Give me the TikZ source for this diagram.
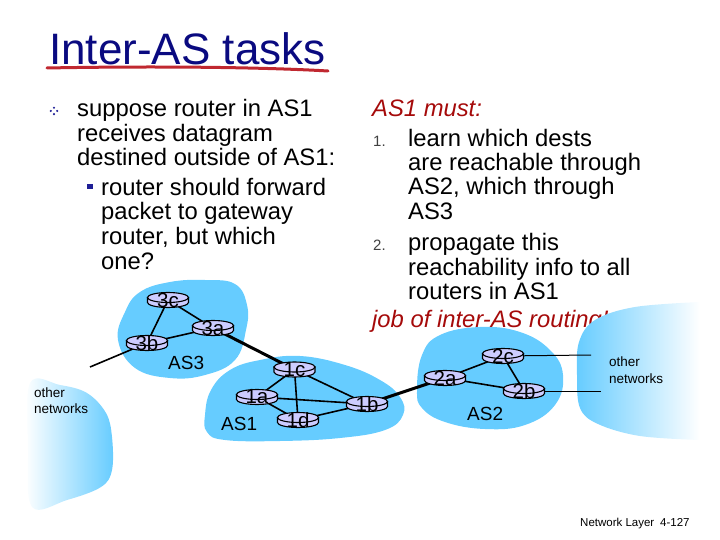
\documentclass[tikz,border=0pt]{standalone}
\usepackage{fontspec}
\setmainfont{Liberation Sans}
\definecolor{asblue}{RGB}{102,204,255}
\definecolor{lav}{RGB}{204,204,255}
\definecolor{titleblue}{RGB}{10,10,128}
\definecolor{ulred}{RGB}{192,40,48}
\definecolor{itred}{RGB}{165,10,10}
\definecolor{bulblue}{RGB}{30,30,150}
\pgfdeclarelayer{blobs}
\pgfdeclarelayer{edges}
\pgfsetlayers{blobs,edges,main}
\tikzset{
  txt/.style={anchor=base west, inner sep=0pt, font=\fontsize{23.8}{28}\selectfont},
  ittxt/.style={txt, text=itred, font=\fontsize{23.8}{28}\selectfont\itshape},
  numtxt/.style={anchor=base west, inner sep=0pt, text=black!75, font=\fontsize{15}{18}\selectfont},
  smalltxt/.style={anchor=base west, inner sep=0pt, font=\fontsize{13.5}{16}\selectfont},
  astxt/.style={anchor=base west, inner sep=0pt, font=\fontsize{19}{22}\selectfont},
  rtrsty/.style={draw=black, line width=1.1pt, fill=lav},
  rtrlab/.style={inner sep=0pt, font=\fontsize{20.5}{22}\selectfont},
  blob/.style={fill=asblue},
  lnk/.style={line width=1.6pt},
  ilnk/.style={line width=3pt},
  onet/.style={line width=1pt}
}
\newcommand{\rtr}[4]{%
  \begin{scope}[shift={(#2,#3)}]
    \filldraw[rtrsty] (-20.5,-2.5) -- (-20.5,2.5) arc[start angle=180,end angle=0,x radius=20.5,y radius=5] -- (20.5,-2.5) -- cycle;
    \filldraw[rtrsty] (0,-2.5) ellipse[x radius=20.5,y radius=5];
  \end{scope}
  \node[rtrlab] (#1) at (#2,#3) {#4};}
\begin{document}
\begin{tikzpicture}[x=1pt,y=-1pt]
\useasboundingbox (0,0) rectangle (720,540);
% title
\node[anchor=base west, inner sep=0pt, font=\fontsize{44}{50}\selectfont, text=titleblue] (title) at (49,65) {Inter-AS tasks};
\draw[ulred, line width=3pt, line cap=round] (47,68) .. controls (150,66) and (260,67) .. (328,71);
% left column
\foreach \dx/\dy in {-3.2/0,3.2/0,0/-3.2,0/3.2}
  \fill[bulblue] (54+\dx,111+\dy) circle (1.2);
\node[txt] (l1) at (77,117) {suppose router in AS1};
\node[txt] (l2) at (77,141.5) {receives datagram};
\node[txt] (l3) at (77,166) {destined outside of AS1:};
\fill[bulblue] (87,184) rectangle (92.5,189.5);
\node[txt] (l4) at (101,195.5) {router should forward};
\node[txt] (l5) at (101,220) {packet to gateway};
\node[txt] (l6) at (101,244.5) {router, but which};
\node[txt] (l7) at (101,269) {one?};
% right column
\node[ittxt] (m0) at (372,117) {AS1 must:};
\node[numtxt] (n1) at (373,147) {1.};
\node[txt] (r1) at (408,147) {learn which dests};
\node[txt] (r2) at (408,171) {are reachable through};
\node[txt] (r3) at (408,195) {AS2, which through};
\node[txt] (r4) at (408,219) {AS3};
\node[numtxt] (n2) at (373,250) {2.};
\node[txt] (r5) at (408,250) {propagate this};
\node[txt] (r6) at (408,275) {reachability info to all};
\node[txt] (r7) at (408,299) {routers in AS1};
% blobs
\begin{pgfonlayer}{blobs}
\path[blob] plot[smooth cycle, tension=0.7] coordinates {(118,340) (125,312) (140,292) (170,282) (205,280) (235,284) (247,305) (246,330) (235,360) (205,375) (170,378) (135,368)};
\path[blob] plot[smooth cycle, tension=0.7] coordinates {(205,415) (211,390) (230,370) (260,360) (300,356) (345,365) (380,380) (400,397) (403,415) (385,430) (340,438) (280,441) (225,440) (207,432)};
\path[blob] plot[smooth cycle, tension=0.7] coordinates {(417,390) (422,355) (440,335) (480,327) (520,332) (550,350) (563,375) (555,405) (525,425) (485,429) (445,422) (422,408)};
\shade[left color=white, right color=asblue] plot[smooth cycle, tension=0.6] coordinates {(30,383) (60,385) (87,393) (106,413) (112,437) (112,470) (101,487) (67,500) (32,507) (28,450)};
\node[ittxt] (job) at (372,327) {job of inter-AS routing!};
\shade[left color=asblue, right color=white] plot[smooth, tension=0.6] coordinates {(700,440) (640,436) (598,424) (580,408) (577,375) (579,342) (595,320) (635,307) (700,302)} -- cycle;
\end{pgfonlayer}
% AS labels
\node[astxt] (as3) at (168,369) {AS3};
\node[astxt] (as1) at (221,430) {AS1};
\node[astxt] (as2) at (467,420) {AS2};
\node[smalltxt] (o1a) at (34,397) {other};
\node[smalltxt] (o1b) at (34,413) {networks};
\node[smalltxt] (o2a) at (609,366) {other};
\node[smalltxt] (o2b) at (609,383) {networks};
% routers
\rtr{r3c}{168}{300}{3c}
\rtr{r3a}{213}{328}{3a}
\rtr{r3b}{147}{343}{3b}
\rtr{r1c}{294.5}{369.5}{1c}
\rtr{r1a}{257}{397}{1a}
\rtr{r1d}{298}{420}{1d}
\rtr{r1b}{367}{404}{1b}
\rtr{r2a}{445}{378}{2a}
\rtr{r2c}{503}{356}{2c}
\rtr{r2b}{524}{391}{2b}
\coordinate (e3) at (90,367);
\coordinate (e2c) at (591,355);
\coordinate (e2b) at (601,391);
\begin{pgfonlayer}{edges}
\draw[lnk] (r3c.center) -- (r3b.center);
\draw[lnk] (r3c.center) -- (r3a.center);
\draw[lnk] (r3a.center) -- (r3b.center);
\draw[lnk] (r3b.center) -- (e3);
\draw[ilnk] (r3a.center) -- (r1c.center);
\draw[lnk] (r1c.center) -- (r1a.center);
\draw[lnk] (r1c.center) -- (r1d.center);
\draw[lnk] (r1c.center) -- (r1b.center);
\draw[lnk] (r1a.center) -- (r1d.center);
\draw[lnk] (r1a.center) -- (r1b.center);
\draw[lnk] (r1d.center) -- (r1b.center);
\draw[ilnk] (r1b.center) -- (r2a.center);
\draw[lnk] (r2a.center) -- (r2c.center);
\draw[lnk] (r2a.center) -- (r2b.center);
\draw[lnk] (r2c.center) -- (r2b.center);
\draw[onet] (r2c.center) -- (e2c);
\draw[onet] (r2b.center) -- (e2b);
\end{pgfonlayer}
% footer
\node[anchor=base west, inner sep=0pt, font=\fontsize{11.5}{13}\selectfont] (f1) at (580,526) {Network Layer};
\node[anchor=base west, inner sep=0pt, font=\fontsize{11.5}{13}\selectfont] (f2) at (660,526) {4-127};
\end{tikzpicture}
\end{document}
